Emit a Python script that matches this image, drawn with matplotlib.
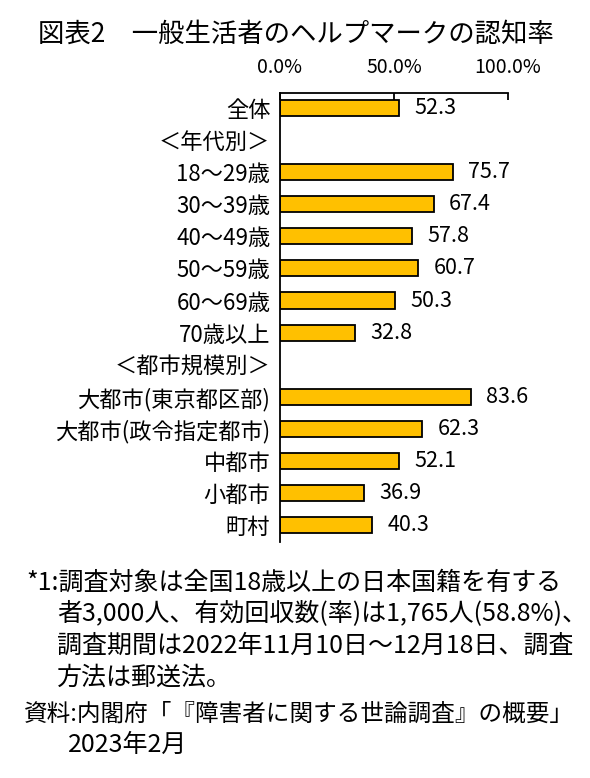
import numpy as np
import matplotlib
matplotlib.use("Agg")
import matplotlib.pyplot as plt

plt.rcParams['font.family'] = ['Noto Sans CJK JP', 'DejaVu Sans']

# rows top to bottom; None = heading row with no bar
labels = ["全体", "＜年代別＞", "18～29歳", "30～39歳", "40～49歳", "50～59歳",
          "60～69歳", "70歳以上", "＜都市規模別＞", "大都市(東京都区部)",
          "大都市(政令指定都市)", "中都市", "小都市", "町村"]
values = [52.3, None, 75.7, 67.4, 57.8, 60.7, 50.3, 32.8, None,
          83.6, 62.3, 52.1, 36.9, 40.3]
xticks = [0, 50, 100]
xtick_labels = ["0.0%", "50.0%", "100.0%"]

title = "図表2\u3000一般生活者のヘルプマークの認知率"
notes = [
    "*1:調査対象は全国18歳以上の日本国籍を有する",
    "者3,000人、有効回収数(率)は1,765人(58.8%)、",
    "調査期間は2022年11月10日～12月18日、調査",
    "方法は郵送法。",
    "資料:内閣府「『障害者に関する世論調査』の概要」",
    "2023年2月",
]

W, H = 590, 778
fig = plt.figure(figsize=(W / 100, H / 100), dpi=100)

# axes box in pixels: x 280..508, y 93..542
ax = fig.add_axes([280 / W, 1 - 542 / H, 228 / W, 449 / H])

y = np.arange(len(labels))
for yi, v in zip(y, values):
    if v is None:
        continue
    ax.barh(yi, v, height=0.5, color="#FFC000", edgecolor="black", linewidth=1.3)
    ax.annotate(f"{v:.1f}", (v, yi), xytext=(11, 0), textcoords="offset points",
                ha="left", va="center", fontsize=15.5)

ax.set_xlim(0, 100)
ax.set_ylim(len(labels) - 0.47, -0.47)
ax.set_yticks(y)
ax.set_yticklabels(labels, fontsize=16)
ax.tick_params(axis="y", length=0, pad=7)

ax.xaxis.tick_top()
ax.set_xticks(xticks)
ax.set_xticklabels(xtick_labels, fontsize=14)
ax.tick_params(axis="x", direction="in", length=5, width=1.3, pad=11)

ax.spines["right"].set_visible(False)
ax.spines["bottom"].set_visible(False)
ax.spines["top"].set_linewidth(1.3)
ax.spines["left"].set_linewidth(1.3)

fig.text(38 / W, 1 - 34 / H, title, fontsize=19, ha="left", va="center")

# note lines: (x px, y px, size)
note_pos = [(26, 583, 18), (57, 614, 18), (57, 646, 18), (57, 678, 18),
            (24, 714, 17), (68, 745, 18)]
for (px, py, fs), s in zip(note_pos, notes):
    fig.text(px / W, 1 - py / H, s, fontsize=fs, ha="left", va="center")

fig.savefig("out.png", dpi=100)
